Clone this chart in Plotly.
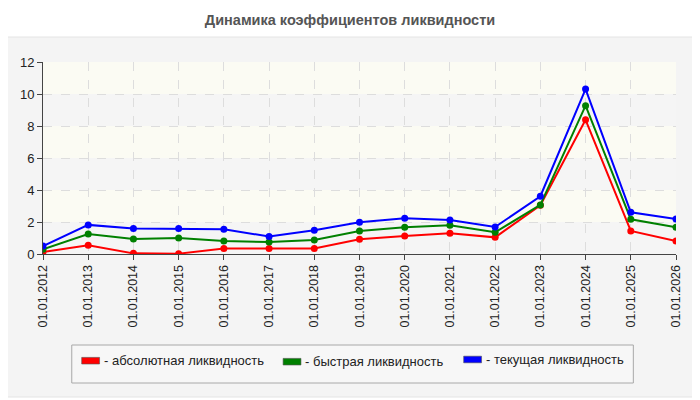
import plotly.graph_objects as go

# данные
dates = ["01.01.%d" % y for y in range(2012, 2027)]
absolute = [0.13, 0.54, 0.04, 0.02, 0.35, 0.35, 0.35, 0.92, 1.13, 1.29, 1.04, 3.05, 8.39, 1.44, 0.81]
quick = [0.30, 1.25, 0.94, 1.00, 0.81, 0.75, 0.88, 1.44, 1.67, 1.80, 1.36, 3.07, 9.27, 2.17, 1.67]
current = [0.50, 1.82, 1.60, 1.59, 1.55, 1.09, 1.48, 1.98, 2.23, 2.13, 1.69, 3.61, 10.31, 2.61, 2.19]
series_names = ["абсолютная ликвидность", "быстрая ликвидность", "текущая ликвидность"]
series_colors = ["#ff0000", "#008000", "#0000ff"]
y_ticks = [0, 2, 4, 6, 8, 10, 12]

FONT = "Liberation Sans, Arial, sans-serif"
OFF = 8  # отступ body в браузере

fig = go.Figure()
for name, vals, col in zip(series_names, [absolute, quick, current], series_colors):
    fig.add_trace(go.Scatter(
        x=dates, y=vals, name=name, mode="lines+markers",
        line=dict(color=col, width=2),
        marker=dict(color=col, size=7),
        showlegend=False,
    ))

# пиксели экрана -> paper
L, R, T, B = 38 - OFF, 676 - OFF, 62 - OFF, 254 - OFF
def px(x):
    return (x - OFF - L) / (R - L)
def py(y):
    return (B - (y - OFF)) / (B - T)

shapes = []
# панель
shapes.append(dict(type="rect", xref="paper", yref="paper",
                   x0=px(1), x1=px(697), y0=py(397), y1=py(37),
                   fillcolor="#f4f4f4", line=dict(color="#e4e4e4", width=1), layer="below"))
# полосы фона
for i in range(6):
    shapes.append(dict(type="rect", xref="paper", yref="y",
                       x0=0, x1=1, y0=2 * i, y1=2 * i + 2,
                       fillcolor="#f5f5f5" if i % 2 == 0 else "#fbfbf3",
                       line=dict(width=0), layer="below"))
# рамка легенды
shapes.append(dict(type="rect", xref="paper", yref="paper",
                   x0=px(67), x1=px(633), y0=py(383), y1=py(345),
                   fillcolor="#f7f7f7", line=dict(color="#a8a8a8", width=1)))

annotations = []
legend_x = [77, 280, 462]
legend_y = [360.7, 361.7, 359.5]
for name, col, lx, ly in zip(series_names, series_colors, legend_x, legend_y):
    shapes.append(dict(type="rect", xref="paper", yref="paper",
                       x0=px(lx), x1=px(lx + 18), y0=py(ly + 3.3), y1=py(ly - 3.3),
                       fillcolor=col, line=dict(color="#555", width=0.6)))
    annotations.append(dict(xref="paper", yref="paper", x=px(lx + 20), y=py(ly),
                            text="- " + name, showarrow=False, xanchor="left", yanchor="middle",
                            font=dict(family=FONT, size=13, color="#222")))

fig.update_layout(
    width=700, height=400,
    margin=dict(l=L, r=700 - R, t=T, b=400 - B),
    paper_bgcolor="white", plot_bgcolor="rgba(0,0,0,0)",
    title=dict(text="<b>Динамика коэффициентов ликвидности</b>", x=(350 - OFF) / 700, xref="container",
               xanchor="center", y=1 - (20 - OFF) / 400, yanchor="middle",
               font=dict(family=FONT, size=14.5, color="#555")),
    font=dict(family=FONT, size=12.5, color="#222"),
    shapes=shapes, annotations=annotations,
    showlegend=False,
)
fig.update_xaxes(type="category", range=[0, len(dates) - 1], tickangle=-90,
                 showline=True, linecolor="#444", linewidth=1,
                 ticks="outside", ticklen=5, tickcolor="#444",
                 showgrid=True, gridcolor="#dddddd", griddash="dash",
                 tickfont=dict(family=FONT, size=12.5, color="#222"), zeroline=False)
fig.update_yaxes(range=[0, 12], tickvals=y_ticks,
                 showline=True, linecolor="#444", linewidth=1,
                 ticks="outside", ticklen=5, tickcolor="#444",
                 showgrid=True, gridcolor="#dddddd", griddash="dash",
                 tickfont=dict(family=FONT, size=13, color="#222"), zeroline=False)

fig.write_html("out.html")
